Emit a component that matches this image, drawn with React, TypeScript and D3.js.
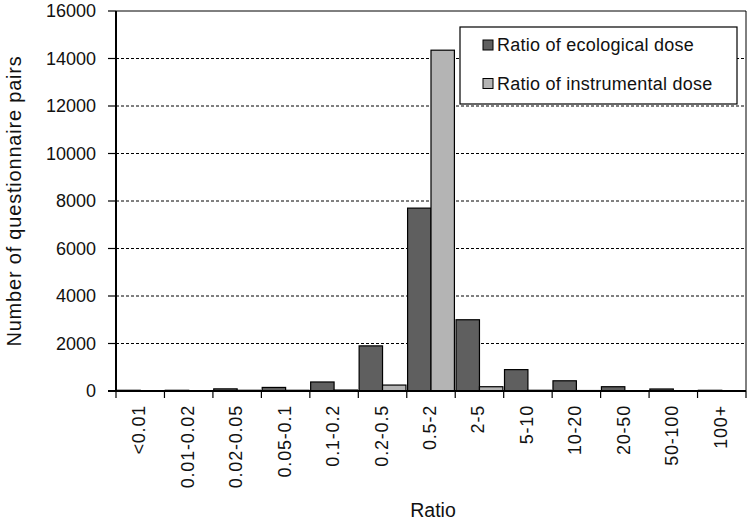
import React from "react";
import * as d3 from "d3";

const categories = ["<0.01","0.01-0.02","0.02-0.05","0.05-0.1","0.1-0.2","0.2-0.5","0.5-2","2-5","5-10","10-20","20-50","50-100","100+"];
const ecological = [30, 30, 90, 150, 380, 1900, 7700, 3000, 900, 430, 180, 85, 30];
const instrumental = [10, 10, 30, 30, 40, 250, 14350, 180, 30, 20, 10, 5, 0];
const seriesNames = ["Ratio of ecological dose", "Ratio of instrumental dose"];
const seriesColors = ["#5f5f5f", "#b4b4b4"];
const yTicks = [0, 2000, 4000, 6000, 8000, 10000, 12000, 14000, 16000];

const W = 750, H = 521;
const m = { left: 116, right: 746, top: 11, bottom: 391 };
const FONT = "'Liberation Sans', Arial, sans-serif";

export default function App() {
  const x = d3.scaleBand<string>().domain(categories).range([m.left, m.right]).paddingInner(0).paddingOuter(0);
  const sub = d3.scaleBand<number>().domain([0, 1]).range([0, x.bandwidth()]).paddingInner(0).paddingOuter(0.035);
  const y = d3.scaleLinear().domain([0, 16000]).range([m.bottom, m.top]);
  const series = [ecological, instrumental];

  return (
    <svg width={W} height={H} style={{ position: "absolute", left: 0, top: 0, background: "#fff" }} fontFamily={FONT}>
      <rect x={0} y={0} width={W} height={H} fill="#fff" />
      {yTicks.filter(t => t > 0 && t < 16000).map(t => (
        <line key={t} x1={m.left} x2={m.right} y1={y(t)} y2={y(t)} stroke="#000" strokeWidth={1} strokeDasharray="3,2" />
      ))}
      <line x1={m.left} x2={m.right} y1={m.top} y2={m.top} stroke="#000" strokeWidth={1} />
      <line x1={m.right} x2={m.right} y1={m.top} y2={m.bottom} stroke="#000" strokeWidth={1} />
      {categories.map((c, i) => (
        <g key={c}>
          {series.map((s, k) => {
            const v = s[i];
            const bx = (x(c) as number) + (sub(k) as number);
            const h = m.bottom - y(v);
            return (
              <rect key={k} x={bx} y={y(v)} width={sub.bandwidth()} height={Math.max(h, 0)}
                fill={seriesColors[k]} stroke="#000" strokeWidth={1.2} />
            );
          })}
        </g>
      ))}
      <line x1={m.left} x2={m.left} y1={m.top} y2={m.bottom + 1} stroke="#000" strokeWidth={2} />
      <line x1={m.left - 8} x2={m.right} y1={m.bottom} y2={m.bottom} stroke="#000" strokeWidth={2} />
      {yTicks.map(t => (
        <g key={t}>
          <line x1={m.left - 8} x2={m.left} y1={y(t)} y2={y(t)} stroke="#000" strokeWidth={1.2} />
          <text x={96} y={y(t)} dy="0.36em" textAnchor="end" fontSize={18} fill="#111">{t}</text>
        </g>
      ))}
      {categories.map(c => (
        <line key={"t" + c} x1={x(c) as number} x2={x(c) as number} y1={m.bottom} y2={m.bottom + 7} stroke="#000" strokeWidth={1.2} />
      ))}
      <line x1={m.right} x2={m.right} y1={m.bottom} y2={m.bottom + 7} stroke="#000" strokeWidth={1.2} />
      {categories.map(c => {
        const cx = (x(c) as number) + x.bandwidth() / 2;
        return (
          <text key={"l" + c} transform={`translate(${cx + 5},${m.bottom + 14}) rotate(-90)`} textAnchor="end"
            fontSize={18} letterSpacing={0.8} fill="#111">{c}</text>
        );
      })}
      <text x={433} y={517} textAnchor="middle" fontSize={19.5} fill="#111">Ratio</text>
      <text transform={`translate(21,201) rotate(-90)`} textAnchor="middle" fontSize={20} letterSpacing={0.8} fill="#111">Number of questionnaire pairs</text>
      <rect x={460} y={27} width={277} height={77} fill="#fff" stroke="#000" strokeWidth={1.2} />
      {seriesNames.map((n, k) => (
        <g key={n}>
          <rect x={483} y={40 + k * 38.5} width={10} height={10} fill={seriesColors[k]} stroke="#000" strokeWidth={1} />
          <text x={497} y={45 + k * 38.5} dy="0.36em" fontSize={18} letterSpacing={0.25} fill="#111">{n}</text>
        </g>
      ))}
    </svg>
  );
}
